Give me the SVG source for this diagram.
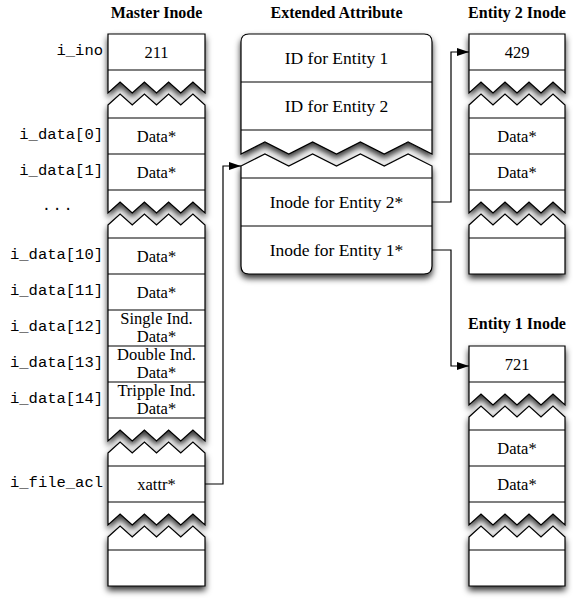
<svg xmlns="http://www.w3.org/2000/svg" width="573" height="603" viewBox="0 0 573 603">
<defs>
<filter id="sh" x="-20%" y="-20%" width="140%" height="160%">
<feDropShadow dx="0" dy="4" stdDeviation="3" flood-color="#000" flood-opacity="0.8"/>
</filter>
<marker id="arr" markerUnits="userSpaceOnUse" markerWidth="12" markerHeight="8" refX="12" refY="4" orient="auto">
<path d="M0,0 L12,4 L0,8 Z" fill="#000"/>
</marker>
<style>
.box{fill:#fff;stroke:#000;stroke-width:1.2;filter:url(#sh)}
.dv{stroke:#000;stroke-width:1.2;fill:none}
.title{font-family:"Liberation Serif",serif;font-size:16px;font-weight:bold;text-anchor:middle;fill:#000}
.t{font-family:"Liberation Serif",serif;font-size:16.5px;text-anchor:middle;fill:#000}
.te{font-family:"Liberation Serif",serif;font-size:17.5px;text-anchor:middle;fill:#000}
.lb{font-family:"Liberation Mono",monospace;font-size:15.5px;text-anchor:end;fill:#000}
.cn{fill:none;stroke:#000;stroke-width:1.2;marker-end:url(#arr)}
</style>
</defs>
<rect width="573" height="603" fill="#fff"/>

<g id="titles">
<text class="title" x="156.5" y="17.5">Master Inode</text>
<text class="title" x="336.5" y="17.5">Extended Attribute</text>
<text class="title" x="517" y="17.5">Entity 2 Inode</text>
<text class="title" x="517" y="329">Entity 1 Inode</text>
</g>

<g id="labels">
<text class="lb" x="103" y="55">i_ino</text>
<text class="lb" x="103" y="139">i_data[0]</text>
<text class="lb" x="103" y="175">i_data[1]</text>
<text class="lb" x="58" y="210" style="text-anchor:middle" letter-spacing="1.5">...</text>
<text class="lb" x="103" y="259">i_data[10]</text>
<text class="lb" x="103" y="295">i_data[11]</text>
<text class="lb" x="103" y="331">i_data[12]</text>
<text class="lb" x="103" y="367">i_data[13]</text>
<text class="lb" x="103" y="403">i_data[14]</text>
<text class="lb" x="103" y="487">i_file_acl</text>
</g>

<g id="master-inode">
<path class="box" d="M108,34 H205 V93 L192.9,82 L180.75,93 L168.6,82 L156.5,93 L144.4,82 L132.25,93 L120.1,82 L108,93 Z"/>
<path class="dv" d="M108,70 H205"/>
<text class="t" x="156.5" y="57.5">211</text>
<path class="box" d="M108,105 L120.1,94 L132.25,105 L144.4,94 L156.5,105 L168.6,94 L180.75,105 L192.9,94 L205,105 V213 L192.9,202 L180.75,213 L168.6,202 L156.5,213 L144.4,202 L132.25,213 L120.1,202 L108,213 Z"/>
<path class="dv" d="M108,118 H205 M108,154 H205 M108,190 H205"/>
<text class="t" x="156.5" y="141.5">Data*</text>
<text class="t" x="156.5" y="177.5">Data*</text>
<path class="box" d="M108,225 L120.1,214 L132.25,225 L144.4,214 L156.5,225 L168.6,214 L180.75,225 L192.9,214 L205,225 V441 L192.9,430 L180.75,441 L168.6,430 L156.5,441 L144.4,430 L132.25,441 L120.1,430 L108,441 Z"/>
<path class="dv" d="M108,238 H205 M108,274 H205 M108,310 H205 M108,346 H205 M108,382 H205 M108,418 H205"/>
<text class="t" x="156.5" y="261.5">Data*</text>
<text class="t" x="156.5" y="297.5">Data*</text>
<text class="t" x="156.5" y="323.5">Single Ind.</text>
<text class="t" x="156.5" y="342">Data*</text>
<text class="t" x="156.5" y="359.5">Double Ind.</text>
<text class="t" x="156.5" y="378">Data*</text>
<text class="t" x="156.5" y="395.5">Tripple Ind.</text>
<text class="t" x="156.5" y="414">Data*</text>
<path class="box" d="M108,453 L120.1,442 L132.25,453 L144.4,442 L156.5,453 L168.6,442 L180.75,453 L192.9,442 L205,453 V525 L192.9,514 L180.75,525 L168.6,514 L156.5,525 L144.4,514 L132.25,525 L120.1,514 L108,525 Z"/>
<path class="dv" d="M108,466 H205 M108,502 H205"/>
<text class="t" x="156.5" y="489.5">xattr*</text>
<path class="box" d="M108,537 L120.1,526 L132.25,537 L144.4,526 L156.5,537 L168.6,526 L180.75,537 L192.9,526 L205,537 V586 H108 Z"/>
<path class="dv" d="M108,550 H205"/>
</g>

<g id="extended-attribute">
<path class="box" d="M241,42 Q241,34 249,34 H424 Q432,34 432,42 V154 L408.1,142 L384.25,154 L360.4,142 L336.5,154 L312.6,142 L288.75,154 L264.9,142 L241,154 Z"/>
<path class="dv" d="M241,82 H432 M241,130 H432"/>
<text class="te" x="336.5" y="63.5">ID for Entity 1</text>
<text class="te" x="336.5" y="111.5">ID for Entity 2</text>
<path class="box" d="M241,166 L264.9,154 L288.75,166 L312.6,154 L336.5,166 L360.4,154 L384.25,166 L408.1,154 L432,166 V266 Q432,274 424,274 H249 Q241,274 241,266 Z"/>
<path class="dv" d="M241,178 H432 M241,226 H432"/>
<text class="te" x="336.5" y="207.5">Inode for Entity 2*</text>
<text class="te" x="336.5" y="255.5">Inode for Entity 1*</text>
</g>

<g id="entity-2-inode">
<path class="box" d="M469,34 H565 V93 L553,82 L541,93 L529,82 L517,93 L505,82 L493,93 L481,82 L469,93 Z"/>
<path class="dv" d="M469,70 H565"/>
<text class="t" x="517" y="57.5">429</text>
<path class="box" d="M469,105 L481,94 L493,105 L505,94 L517,105 L529,94 L541,105 L553,94 L565,105 V213 L553,202 L541,213 L529,202 L517,213 L505,202 L493,213 L481,202 L469,213 Z"/>
<path class="dv" d="M469,118 H565 M469,154 H565 M469,190 H565"/>
<text class="t" x="517" y="141.5">Data*</text>
<text class="t" x="517" y="177.5">Data*</text>
<path class="box" d="M469,225 L481,214 L493,225 L505,214 L517,225 L529,214 L541,225 L553,214 L565,225 V274 H469 Z"/>
<path class="dv" d="M469,238 H565"/>
</g>

<g id="entity-1-inode">
<path class="box" d="M469,346 H565 V405 L553,394 L541,405 L529,394 L517,405 L505,394 L493,405 L481,394 L469,405 Z"/>
<path class="dv" d="M469,382 H565"/>
<text class="t" x="517" y="369.5">721</text>
<path class="box" d="M469,417 L481,406 L493,417 L505,406 L517,417 L529,406 L541,417 L553,406 L565,417 V525 L553,514 L541,525 L529,514 L517,525 L505,514 L493,525 L481,514 L469,525 Z"/>
<path class="dv" d="M469,430 H565 M469,466 H565 M469,502 H565"/>
<text class="t" x="517" y="453.5">Data*</text>
<text class="t" x="517" y="489.5">Data*</text>
<path class="box" d="M469,537 L481,526 L493,537 L505,526 L517,537 L529,526 L541,537 L553,526 L565,537 V586 H469 Z"/>
<path class="dv" d="M469,550 H565"/>
</g>

<g id="connectors">
<path class="cn" d="M205,484 H223 V166 H241"/>
<path class="cn" d="M432,202 H451 V52 H469"/>
<path class="cn" d="M432,250 H451 V366 H469"/>
</g>
</svg>
